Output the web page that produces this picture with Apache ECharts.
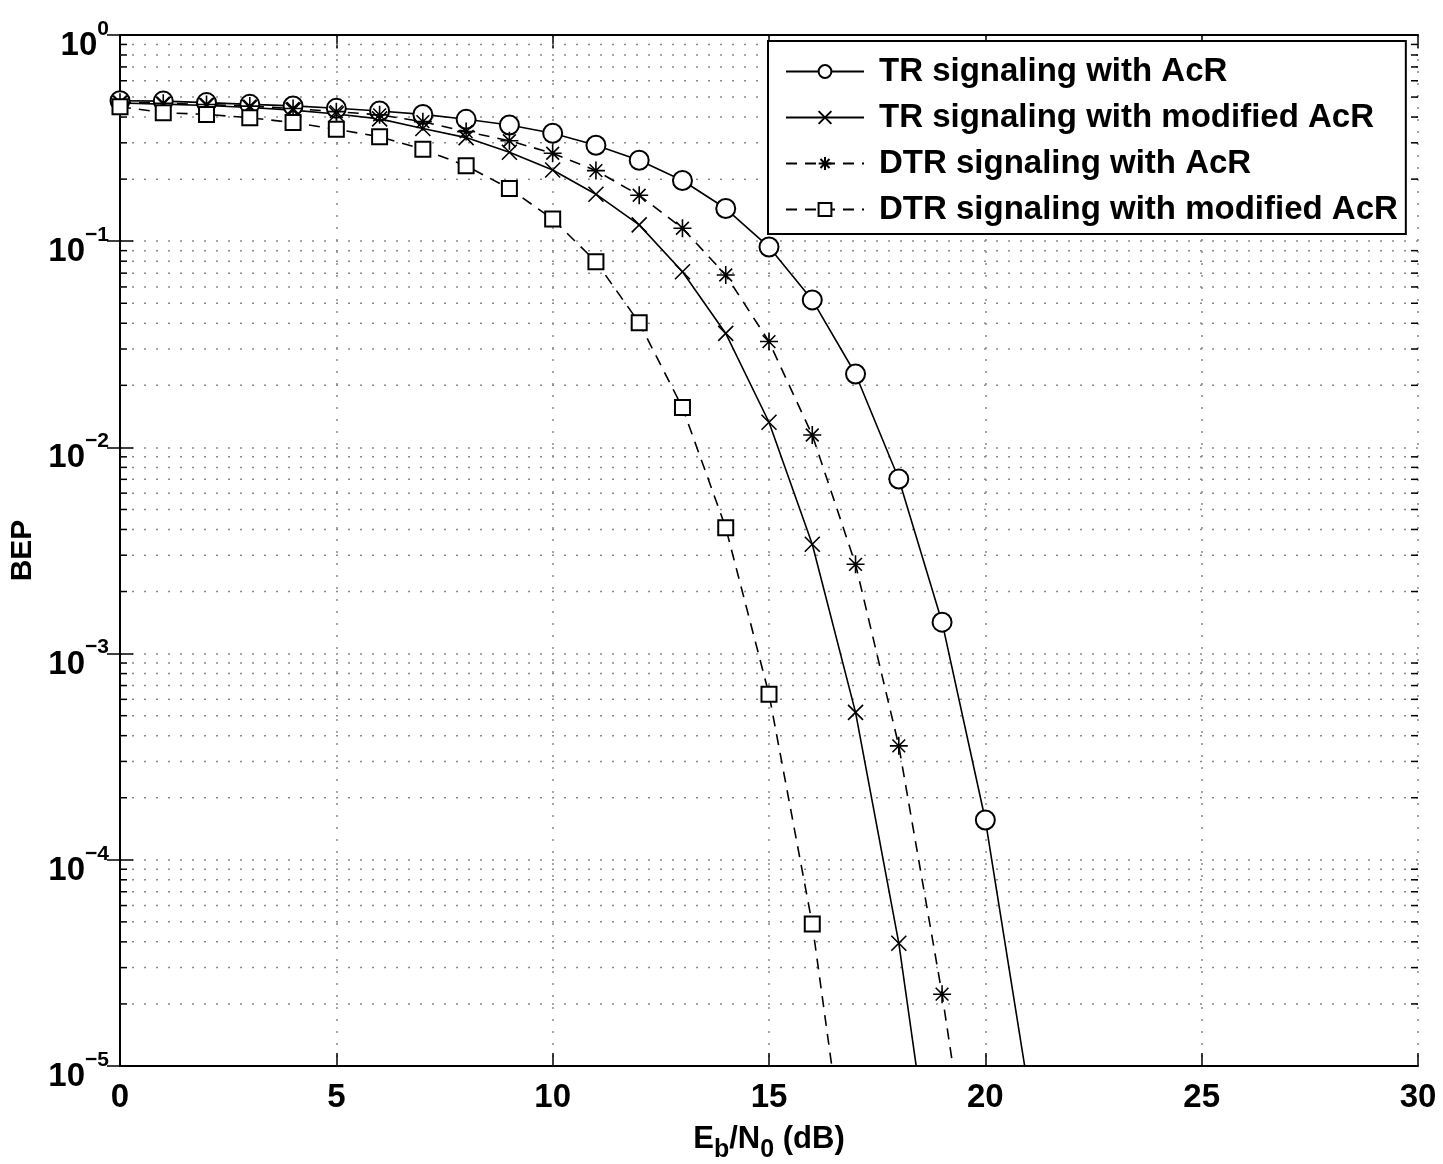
<!DOCTYPE html>
<html>
<head>
<meta charset="utf-8">
<script src="https://cdn.jsdelivr.net/npm/echarts@6/dist/echarts.min.js"></script>
<style>
html,body{margin:0;padding:0;background:#fff;}
#chart{width:1443px;height:1164px;}
</style>
</head>
<body>
<div id="chart"></div>
<script>
// ---- Data ----
const xTicks = [0, 5, 10, 15, 20, 25, 30];
const seriesNames = [
  'TR signaling with AcR',
  'TR signaling with modified AcR',
  'DTR signaling with AcR',
  'DTR signaling with modified AcR'
];
const snrTR = [0,1,2,3,4,5,6,7,8,9,10,11,12,13,14,15,16,17,18,19,20,21];
const bepTR = [0.480,0.478,0.470,0.461,0.453,0.441,0.428,0.412,0.390,0.366,0.334,0.292,0.247,0.197,0.144,0.0937,0.0519,0.0227,0.00703,0.00142,1.56e-4,7.6e-6];

const snrTRmod = [0,1,2,3,4,5,6,7,8,9,10,11,12,13,14,15,16,17,18,19];
const bepTRmod = [0.468,0.462,0.455,0.445,0.432,0.414,0.392,0.352,0.318,0.270,0.2215,0.169,0.120,0.0711,0.0357,0.01324,0.00339,5.19e-4,3.94e-5,1.3e-6];

const snrDTR = [0,1,2,3,4,5,6,7,8,9,10,11,12,13,14,15,16,17,18,19,20];
const bepDTR = [0.472,0.467,0.460,0.452,0.440,0.425,0.410,0.380,0.340,0.307,0.267,0.220,0.167,0.1155,0.0686,0.0326,0.01148,0.00271,3.57e-4,2.23e-5,9e-7];

const snrDTRmod = [0,1,2,3,4,5,6,7,8,9,10,11,12,13,14,15,16,17];
const bepDTRmod = [0.449,0.420,0.412,0.397,0.376,0.349,0.321,0.279,0.232,0.180,0.128,0.0796,0.0402,0.0156,0.00408,6.35e-4,4.88e-5,1.45e-6];

const yDecades = [1e-5, 1e-4, 1e-3, 1e-2, 1e-1];
const yMinorMultipliers = [2, 3, 4, 5, 6, 7, 8, 9];

// ---- Chart ----
const FONT = '"Liberation Sans", Arial, Helvetica, sans-serif';
const zip = (xs, ys) => xs.map((x, i) => [x, ys[i]]);

const minorVals = [];
yDecades.forEach(d => yMinorMultipliers.forEach(m => minorVals.push([0, d * m])));

const crossPath = 'path://M0,0L10,10M10,0L0,10';
const starPath = 'path://M5,0L5,10M0,5L10,5M1.46,1.46L8.54,8.54M8.54,1.46L1.46,8.54';

const chart = echarts.init(document.getElementById('chart'), null, {renderer: 'canvas'});

const supRich = {
  b: {fontSize: 33, fontWeight: 'bold', fontFamily: FONT, color: '#000', lineHeight: 33, padding: [11, 0, 0, 0], verticalAlign: 'top'},
  s: {fontSize: 21, fontWeight: 'bold', fontFamily: FONT, color: '#000', lineHeight: 21, verticalAlign: 'top'}
};
const DASH = [11, 8];

const option = {
  animation: false,
  backgroundColor: '#fff',
  grid: {left: 120, right: 25, top: 35, bottom: 98, containLabel: false, outerBoundsMode: 'none'},
  legend: {
    orient: 'vertical',
    left: 768,
    top: 41,
    data: seriesNames,
    backgroundColor: '#fff',
    borderColor: '#000',
    borderWidth: 2,
    borderRadius: 0,
    padding: [14, 8, 8, 17],
    itemWidth: 78,
    itemHeight: 16,
    itemGap: 13,
    textStyle: {fontSize: 33, fontWeight: 'bold', fontFamily: FONT, color: '#000', lineHeight: 32, padding: [0, 0, 0, 10]}
  },
  xAxis: [{
    type: 'value', min: 0, max: 30, interval: 5,
    name: '{n|E}{sub|b}{n|/N}{sub|0}{n| (dB)}',
    nameLocation: 'middle', nameGap: 58,
    nameTextStyle: {
      rich: {
        n: {fontSize: 31, fontWeight: 'bold', fontFamily: FONT, color: '#000', lineHeight: 31, verticalAlign: 'top'},
        sub: {fontSize: 25, fontWeight: 'bold', fontFamily: FONT, color: '#000', lineHeight: 25, padding: [14, 0, 0, 0], verticalAlign: 'top'}
      }
    },
    axisLine: {show: true, lineStyle: {color: '#000', width: 2}},
    axisTick: {show: true, inside: true, length: 13, lineStyle: {color: '#000', width: 1.5}},
    axisLabel: {fontSize: 33, fontWeight: 'bold', fontFamily: FONT, color: '#000', margin: 15},
    splitLine: {show: true, lineStyle: {color: '#8a8a8a', width: 1.5, type: [2, 10]}}
  }, {
    type: 'value', min: 0, max: 30, interval: 5, position: 'top',
    axisLine: {show: true, lineStyle: {color: '#000', width: 2}},
    axisTick: {show: true, inside: true, length: 13, lineStyle: {color: '#000', width: 1.5}},
    axisLabel: {show: false},
    splitLine: {show: false}
  }],
  yAxis: [{
    type: 'log', logBase: 10, min: 1e-5, max: 1,
    name: 'BEP', nameLocation: 'middle', nameGap: 77, nameRotate: 90,
    nameTextStyle: {fontSize: 30, fontWeight: 'bold', fontFamily: FONT, color: '#000'},
    axisLine: {show: true, lineStyle: {color: '#000', width: 2}},
    axisTick: {show: true, inside: true, length: 13, lineStyle: {color: '#000', width: 1.5}},
    axisLabel: {
      margin: 11,
      formatter: v => '{b|10}{s|' + String(Math.round(Math.log10(v))).replace('-', '\u2212') + '}',
      rich: supRich
    },
    splitLine: {show: true, lineStyle: {color: '#8a8a8a', width: 1.5, type: [2, 10]}}
  }, {
    type: 'log', logBase: 10, min: 1e-5, max: 1, position: 'right',
    axisLine: {show: true, lineStyle: {color: '#000', width: 2}},
    axisTick: {show: true, inside: true, length: 13, lineStyle: {color: '#000', width: 1.5}},
    axisLabel: {show: false},
    splitLine: {show: false}
  }],
  series: [
    {
      type: 'custom', name: 'minorGrid', silent: true, z: 1,
      xAxisIndex: 0, yAxisIndex: 0,
      data: minorVals,
      encode: {x: 0, y: 1},
      renderItem: function (params, api) {
        const v = api.value(1);
        const p1 = api.coord([0, v]);
        const p2 = api.coord([30, v]);
        return {
          type: 'group',
          children: [
            {type: 'line', shape: {x1: p1[0], y1: p1[1], x2: p2[0], y2: p2[1]},
             style: {stroke: '#8a8a8a', lineWidth: 1.5, lineDash: [2, 10]}},
            {type: 'line', shape: {x1: p1[0], y1: p1[1], x2: p1[0] + 7, y2: p1[1]},
             style: {stroke: '#000', lineWidth: 1.5}},
            {type: 'line', shape: {x1: p2[0], y1: p2[1], x2: p2[0] - 7, y2: p2[1]},
             style: {stroke: '#000', lineWidth: 1.5}}
          ]
        };
      }
    },
    {
      name: seriesNames[0], type: 'line', z: 5, clip: true,
      data: zip(snrTR, bepTR),
      symbol: 'emptyCircle', symbolSize: 19, showAllSymbol: true,
      lineStyle: {color: '#000', width: 1.6, type: 'solid'},
      itemStyle: {color: '#000', borderColor: '#000', borderWidth: 1.6}
    },
    {
      name: seriesNames[1], type: 'line', z: 5, clip: true,
      data: zip(snrTRmod, bepTRmod),
      symbol: crossPath, symbolSize: 15, showAllSymbol: true,
      lineStyle: {color: '#000', width: 1.6, type: 'solid'},
      itemStyle: {color: '#000', borderColor: '#000', borderWidth: 1.6}
    },
    {
      name: seriesNames[2], type: 'line', z: 5, clip: true,
      data: zip(snrDTR, bepDTR),
      symbol: starPath, symbolSize: 18, showAllSymbol: true,
      lineStyle: {color: '#000', width: 1.6, type: DASH},
      itemStyle: {color: '#000', borderColor: '#000', borderWidth: 1.6}
    },
    {
      name: seriesNames[3], type: 'line', z: 5, clip: true,
      data: zip(snrDTRmod, bepDTRmod),
      symbol: 'emptyRect', symbolSize: 15, showAllSymbol: true,
      lineStyle: {color: '#000', width: 1.6, type: DASH},
      itemStyle: {color: '#000', borderColor: '#000', borderWidth: 1.6}
    }
  ]
};
chart.setOption(option);
</script>
</body>
</html>
